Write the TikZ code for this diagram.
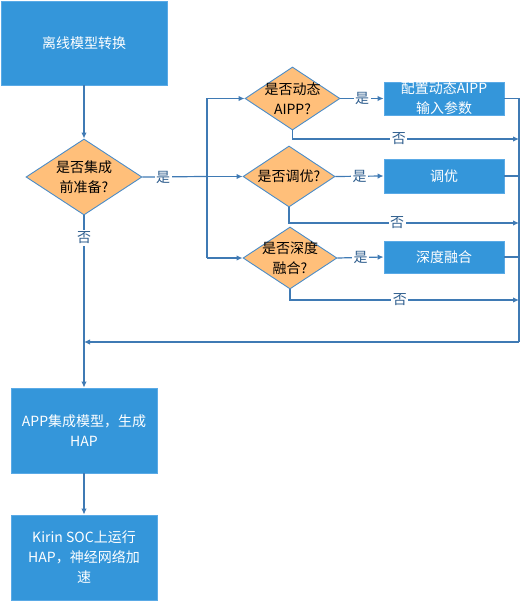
\documentclass[tikz,border=0pt]{standalone}
\usepackage{fontspec}
\setmainfont{Noto Sans CJK SC}
\usetikzlibrary{shapes.geometric,arrows.meta}
\definecolor{boxfill}{HTML}{3496DA}
\definecolor{boxline}{HTML}{5AAAE6}
\definecolor{dfill}{HTML}{FFBF7A}
\definecolor{dline}{HTML}{4A8CC8}
\definecolor{conn}{HTML}{3F7AB4}
\definecolor{lbl}{HTML}{2F5E8E}
\tikzset{
  procbox/.style={draw=boxline, line width=0.8pt, fill=boxfill, text=white, align=center,
    inner sep=0pt, font=\fontsize{14}{20}\selectfont},
  decision/.style={diamond, draw=dline, line width=0.9pt, fill=dfill, inner sep=0pt},
  dtext/.style={align=center, font=\fontsize{14}{20}\selectfont, text=black},
  conline/.style={draw=conn, line width=1.2pt},
  arr/.style={conline, -{Latex[length=6pt,width=5.5pt]}},
  yn/.style={fill=white, inner sep=1.5pt, text=lbl, font=\fontsize{14}{16}\selectfont},
}
\begin{document}
\begin{tikzpicture}[x=1pt,y=-1pt]
\useasboundingbox (0,0) rectangle (525,601);
% boxes
\node[procbox, minimum width=166pt, minimum height=84pt] (b1) at (84,43) {离线模型转换};
\node[procbox, minimum width=120pt, minimum height=33pt] (bA) at (444,98.5) {配置动态AIPP\\输入参数};
\node[procbox, minimum width=120pt, minimum height=34pt] (bB) at (444,176) {调优};
\node[procbox, minimum width=120pt, minimum height=32pt] (bC) at (444,257) {深度融合};
\node[procbox, minimum width=146pt, minimum height=85pt] (bApp) at (84,430.5) {APP集成模型，生成\\HAP};
\node[procbox, minimum width=146pt, minimum height=85pt] (bK) at (84,557.5) {Kirin SOC上运行\\HAP，神经网络加\\速};
% diamonds
\node[decision, minimum width=116pt, minimum height=76pt] (d1) at (84,177) {};
\node[dtext] (t1) at (d1.center) {是否集成\\前准备?};
\node[decision, minimum width=95pt, minimum height=63pt] (d2) at (292.5,98.5) {};
\node[dtext] (t2) at (d2.center) {是否动态\\AIPP?};
\node[decision, minimum width=92pt, minimum height=61pt] (d3) at (289,176.5) {};
\node[dtext] (t3) at (d3.center) {是否调优?};
\node[decision, minimum width=94pt, minimum height=62pt] (d4) at (290,258) {};
\node[dtext] (t4) at (d4.center) {是否深度\\融合?};
% helper coordinates
\coordinate (tr1) at (207,98.5);
\coordinate (tr2) at (207,176.5);
\coordinate (tr3) at (207,258);
\coordinate (rA) at (519,98.5);
\coordinate (rB) at (519,176);
\coordinate (rC) at (519,257);
\coordinate (rBot) at (519,342);
\coordinate (ret) at (84,342);
\coordinate (n2) at (292.5,139);
\coordinate (n2e) at (519,139);
\coordinate (n3) at (289,223);
\coordinate (n3e) at (519,223);
\coordinate (n4) at (290,300);
\coordinate (n4e) at (519,300);
% connectors
\draw[arr] (b1.south) -- (d1.north);
\draw[conline] (d1.east) -- (tr2);
\node[yn] (y1) at (163,177) {是};
\draw[conline] (tr1) -- (tr3);
\draw[arr] (tr1) -- (d2.west);
\draw[arr] (tr2) -- (d3.west);
\draw[arr] (tr3) -- (d4.west);
\draw[arr] (d2.east) -- node[yn] (y2) {是} (bA.west);
\draw[arr] (d3.east) -- node[yn] (y3) {是} (bB.west);
\draw[arr] (d4.east) -- node[yn] (y4) {是} (bC.west);
\draw[conline] (bA.east) -- (rA) -- (rBot);
\draw[conline] (bB.east) -- (rB);
\draw[conline] (bC.east) -- (rC);
\draw[arr] (rBot) -- (ret);
\draw[arr] (d2.south) -- (n2) -- node[yn, pos=0.47] (no2) {否} (n2e);
\draw[arr] (d3.south) -- (n3) -- node[yn, pos=0.47] (no3) {否} (n3e);
\draw[arr] (d4.south) -- (n4) -- node[yn, pos=0.48] (no4) {否} (n4e);
\draw[arr] (d1.south) -- (bApp.north);
\node[yn] (no1) at (84,238) {否};
\draw[arr] (bApp.south) -- (bK.north);
\end{tikzpicture}
\end{document}
